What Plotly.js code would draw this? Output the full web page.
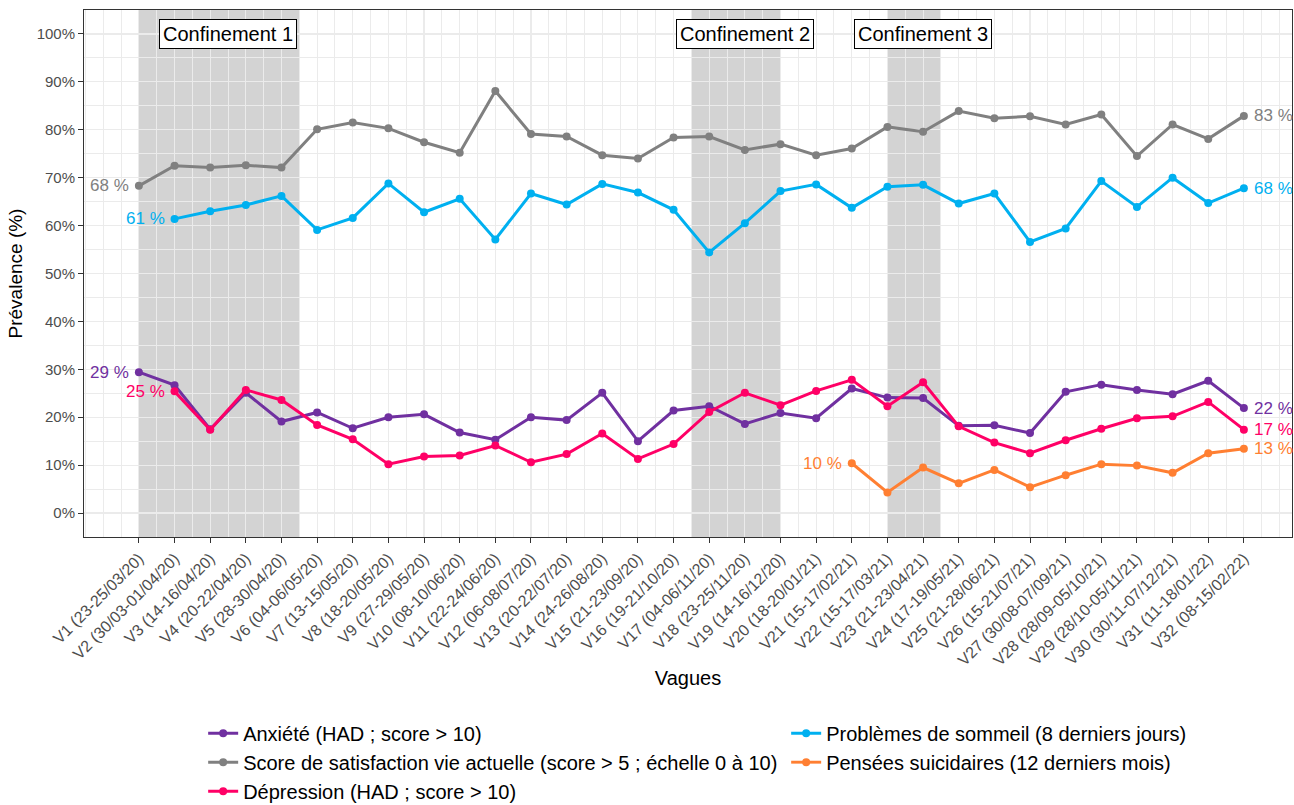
<!DOCTYPE html>
<html>
<head>
<meta charset="utf-8">
<script src="https://cdn.plot.ly/plotly-3.0.1.min.js"></script>
<style>html,body{margin:0;padding:0;background:#fff;} #chart{width:1294px;height:805px;}</style>
</head>
<body>
<div id="chart"></div>
<script>
const categories = ["V1 (23-25/03/20)","V2 (30/03-01/04/20)","V3 (14-16/04/20)","V4 (20-22/04/20)","V5 (28-30/04/20)","V6 (04-06/05/20)","V7 (13-15/05/20)","V8 (18-20/05/20)","V9 (27-29/05/20)","V10 (08-10/06/20)","V11 (22-24/06/20)","V12 (06-08/07/20)","V13 (20-22/07/20)","V14 (24-26/08/20)","V15 (21-23/09/20)","V16 (19-21/10/20)","V17 (04-06/11/20)","V18 (23-25/11/20)","V19 (14-16/12/20)","V20 (18-20/01/21)","V21 (15-17/02/21)","V22 (15-17/03/21)","V23 (21-23/04/21)","V24 (17-19/05/21)","V25 (21-28/06/21)","V26 (15-21/07/21)","V27 (30/08-07/09/21)","V28 (28/09-05/10/21)","V29 (28/10-05/11/21)","V30 (30/11-07/12/21)","V31 (11-18/01/22)","V32 (08-15/02/22)"];

const anxiete = [29.4,26.7,17.5,25.1,19.1,21.0,17.7,20.0,20.6,16.8,15.3,20.0,19.4,25.1,15.0,21.4,22.3,18.6,20.9,19.8,26.0,24.1,24.0,18.2,18.3,16.7,25.3,26.8,25.7,24.8,27.6,21.9];
const satisfaction = [68.3,72.5,72.1,72.6,72.1,80.1,81.5,80.3,77.4,75.2,88.1,79.1,78.6,74.7,74.0,78.4,78.6,75.8,77.0,74.7,76.1,80.6,79.6,83.9,82.4,82.8,81.1,83.2,74.5,81.1,78.1,82.9];
const depression = [null,25.4,17.4,25.7,23.6,18.4,15.4,10.2,11.8,12.0,14.1,10.6,12.3,16.6,11.3,14.4,21.1,25.1,22.5,25.5,27.8,22.3,27.3,18.1,14.7,12.5,15.2,17.6,19.8,20.2,23.2,17.4];
const sommeil = [null,61.4,63.0,64.3,66.2,59.1,61.6,68.8,62.8,65.6,57.1,66.7,64.4,68.7,66.9,63.3,54.4,60.5,67.2,68.6,63.7,68.1,68.5,64.6,66.7,56.6,59.4,69.3,63.9,70.0,64.7,67.8];
const suicidaires = [null,null,null,null,null,null,null,null,null,null,null,null,null,null,null,null,null,null,null,null,10.4,4.3,9.5,6.2,9.0,5.4,7.9,10.2,9.9,8.4,12.5,13.4];

const confinements = [
  {label:"Confinement 1", start:1, end:5.5, labelX:3.5},
  {label:"Confinement 2", start:16.5, end:19, labelX:18},
  {label:"Confinement 3", start:22, end:23.5, labelX:23}
];

const xIdx = categories.map((c,i)=>i+1);
const FONT = "Liberation Sans, Arial, sans-serif";

const seriesDefs = [
  {name:"Anxiété (HAD ; score > 10)", y:anxiete, color:"#7030A0"},
  {name:"Problèmes de sommeil (8 derniers jours)", y:sommeil, color:"#00B0F0"},
  {name:"Score de satisfaction vie actuelle (score > 5 ; échelle 0 à 10)", y:satisfaction, color:"#808080"},
  {name:"Pensées suicidaires (12 derniers mois)", y:suicidaires, color:"#FF7F32"},
  {name:"Dépression (HAD ; score > 10)", y:depression, color:"#FF0066"}
];

const traces = seriesDefs.map(s=>({
  type:"scatter", mode:"lines+markers", name:s.name, x:xIdx, y:s.y,
  line:{color:s.color, width:3}, marker:{color:s.color, size:8},
  connectgaps:false, hoverinfo:"skip"
}));

const annotations = [];
seriesDefs.forEach(s=>{
  let first=-1, last=-1;
  s.y.forEach((v,i)=>{ if(v!==null){ if(first<0) first=i; last=i; } });
  annotations.push({x:xIdx[first], y:s.y[first], text:Math.round(s.y[first])+" %", showarrow:false,
    xanchor:"right", yanchor:"middle", xshift:-8, font:{family:FONT, size:17, color:s.color}});
  annotations.push({x:xIdx[last], y:s.y[last], text:Math.round(s.y[last])+" %", showarrow:false,
    xanchor:"left", yanchor:"middle", xshift:8, font:{family:FONT, size:17, color:s.color}});
});
confinements.forEach(c=>{
  annotations.push({x:c.labelX, y:100, text:c.label, showarrow:false, xanchor:"center", yanchor:"middle",
    bgcolor:"#ffffff", bordercolor:"#000000", borderwidth:1, borderpad:3,
    font:{family:FONT, size:20, color:"#000000"}});
});

const shapes = confinements.map(c=>({
  type:"rect", xref:"x", yref:"paper", x0:c.start, x1:c.end, y0:0, y1:1,
  fillcolor:"#d3d3d3", line:{width:0}, layer:"between"
}));

const layout = {
  width:1294, height:805,
  margin:{l:84, r:2, t:10, b:268, autoexpand:false},
  paper_bgcolor:"#ffffff", plot_bgcolor:"#ffffff",
  font:{family:FONT, color:"#4d4d4d"},
  showlegend:true,
  xaxis:{
    range:[-0.54, 33.35], tickmode:"array", tickvals:xIdx, ticktext:categories,
    tickangle:-45, tickfont:{family:FONT, size:16, color:"#4d4d4d"},
    ticks:"outside", ticklen:5, tickcolor:"#333333", tickwidth:1,
    showgrid:true, gridcolor:"#ebebeb", gridwidth:1.1,
    minor:{tick0:0, dtick:0.5, showgrid:true, gridcolor:"#ebebeb", gridwidth:1, ticks:""},
    showline:true, linecolor:"#333333", linewidth:1, mirror:true, zeroline:false,
    automargin:false,
    title:{text:"Vagues", font:{family:FONT, size:20, color:"#000000"}, standoff:3}
  },
  yaxis:{
    range:[-5,105], tickmode:"linear", tick0:0, dtick:10, ticksuffix:"%",
    tickfont:{family:FONT, size:15, color:"#4d4d4d"},
    ticks:"outside", ticklen:5, tickcolor:"#333333", tickwidth:1,
    showgrid:true, gridcolor:"#ebebeb", gridwidth:1.1,
    minor:{tick0:0, dtick:5, showgrid:true, gridcolor:"#ebebeb", gridwidth:1, ticks:""},
    showline:true, linecolor:"#333333", linewidth:1, mirror:true, zeroline:false,
    automargin:false,
    title:{text:"Prévalence (%)", font:{family:FONT, size:19, color:"#000000"}, standoff:8}
  },
  legend:{
    orientation:"h", xref:"container", yref:"container", x:0.157, xanchor:"left", y:0.1135, yanchor:"top",
    entrywidth:538, entrywidthmode:"pixels", traceorder:"normal",
    font:{family:FONT, size:20, color:"#000000"}, bgcolor:"rgba(0,0,0,0)", borderwidth:0
  },
  shapes:shapes,
  annotations:annotations
};

Plotly.newPlot("chart", traces, layout, {displayModeBar:false, staticPlot:true});
</script>
</body>
</html>
